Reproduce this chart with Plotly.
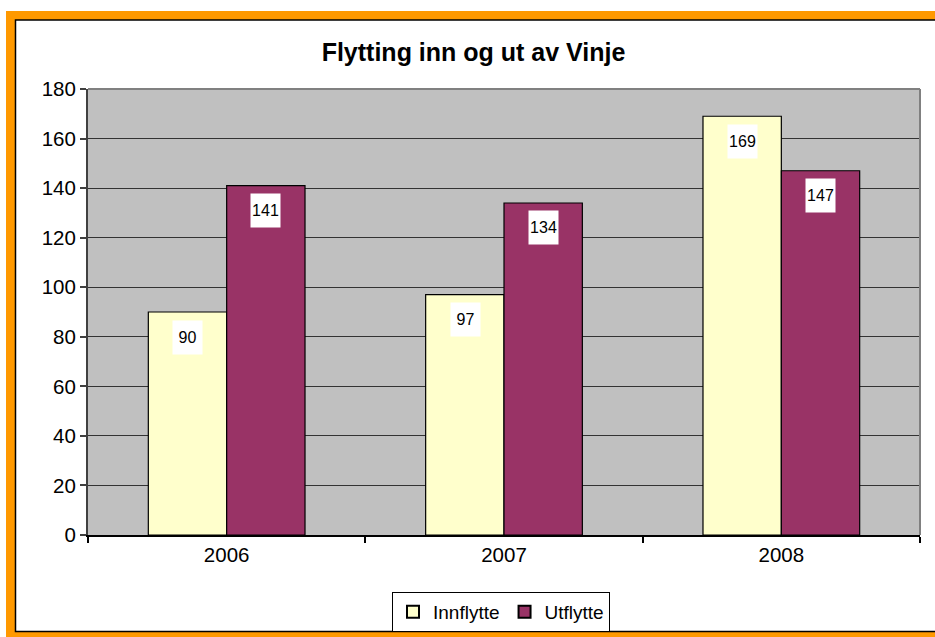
import plotly.graph_objects as go

years = ["2006", "2007", "2008"]
innflytte = [90, 97, 169]
utflytte = [141, 134, 147]
y_ticks = [0, 20, 40, 60, 80, 100, 120, 140, 160, 180]

W, H = 935, 637
L, R, T, B = 88, 920, 89, 535  # plot area in pixels
FONT = "Arial, Liberation Sans, sans-serif"


def px_x(p):
    return (p - L) / (R - L)


def px_y(p):
    return (B - p) / (B - T)


fig = go.Figure()
fig.add_trace(go.Bar(name="Innflytte", x=years, y=innflytte,
                     marker=dict(color="#FFFFCC", line=dict(color="#000000", width=1.2))))
fig.add_trace(go.Bar(name="Utflytte", x=years, y=utflytte,
                     marker=dict(color="#993366", line=dict(color="#000000", width=1.2))))

bar_w = 78
annotations = []
for series, shift in ((innflytte, -bar_w / 2), (utflytte, bar_w / 2)):
    for i, v in enumerate(series):
        annotations.append(dict(
            x=i, y=v, xref="x", yref="y", text=str(v), showarrow=False,
            xshift=shift, yshift=-25, bgcolor="#FFFFFF", width=27, height=31,
            font=dict(family=FONT, size=16, color="#000000"),
        ))

shapes = [
    dict(type="rect", xref="paper", yref="paper", layer="below",
         x0=px_x(6), x1=px_x(945), y0=px_y(11), y1=px_y(645),
         fillcolor="#FF9900", line=dict(width=0)),
    dict(type="rect", xref="paper", yref="paper", layer="below",
         x0=px_x(15.5), x1=px_x(945), y0=px_y(20), y1=px_y(631.5),
         fillcolor="#FFFFFF", line=dict(color="#000000", width=1.5)),
    dict(type="rect", xref="paper", yref="paper", layer="below",
         x0=0, x1=1, y0=0, y1=1, fillcolor="#C0C0C0", line=dict(width=0)),
    dict(type="line", xref="paper", yref="paper", x0=0, x1=1, y0=1, y1=1,
         line=dict(color="#808080", width=2)),
    dict(type="line", xref="paper", yref="paper", x0=1, x1=1, y0=0, y1=1,
         line=dict(color="#808080", width=2)),
]

fig.update_layout(
    width=W, height=H,
    margin=dict(l=L, r=W - R, t=T, b=H - B, pad=0, autoexpand=False),
    paper_bgcolor="#FFFFFF",
    plot_bgcolor="#C0C0C0",
    barmode="group",
    bargap=0.435,
    bargroupgap=0,
    title=dict(text="<b>Flytting inn og ut av Vinje</b>", x=473.5 / W, xanchor="center",
               y=1 - 52 / H, yanchor="middle",
               font=dict(family=FONT, size=25, color="#000000")),
    font=dict(family=FONT, color="#000000"),
    showlegend=True,
    legend=dict(orientation="h", x=px_x(501), xanchor="center", y=px_y(592), yanchor="top",
                bgcolor="#FFFFFF", bordercolor="#000000", borderwidth=1,
                font=dict(family=FONT, size=19, color="#000000"),
                itemwidth=30, itemsizing="constant", tracegroupgap=0),
    shapes=shapes,
    annotations=annotations,
    xaxis=dict(type="category", tickson="boundaries", ticks="outside", ticklen=6,
               tickcolor="#000000", tickwidth=1.5, showline=True, linecolor="#000000",
               linewidth=2, mirror=False, showgrid=False, tickangle=0,
               tickfont=dict(family=FONT, size=20.5, color="#000000"), zeroline=False),
    yaxis=dict(range=[0, 180], tickvals=y_ticks, ticks="outside", ticklen=6,
               tickcolor="#404040", tickwidth=1.5, showline=True, linecolor="#404040",
               linewidth=2, showgrid=True, gridcolor="#333333", gridwidth=1.3,
               zeroline=False, tickfont=dict(family=FONT, size=20.5, color="#000000")),
)

fig.write_html("out.html", config={"displayModeBar": False},
               post_script="document.body.style.margin='0';")
